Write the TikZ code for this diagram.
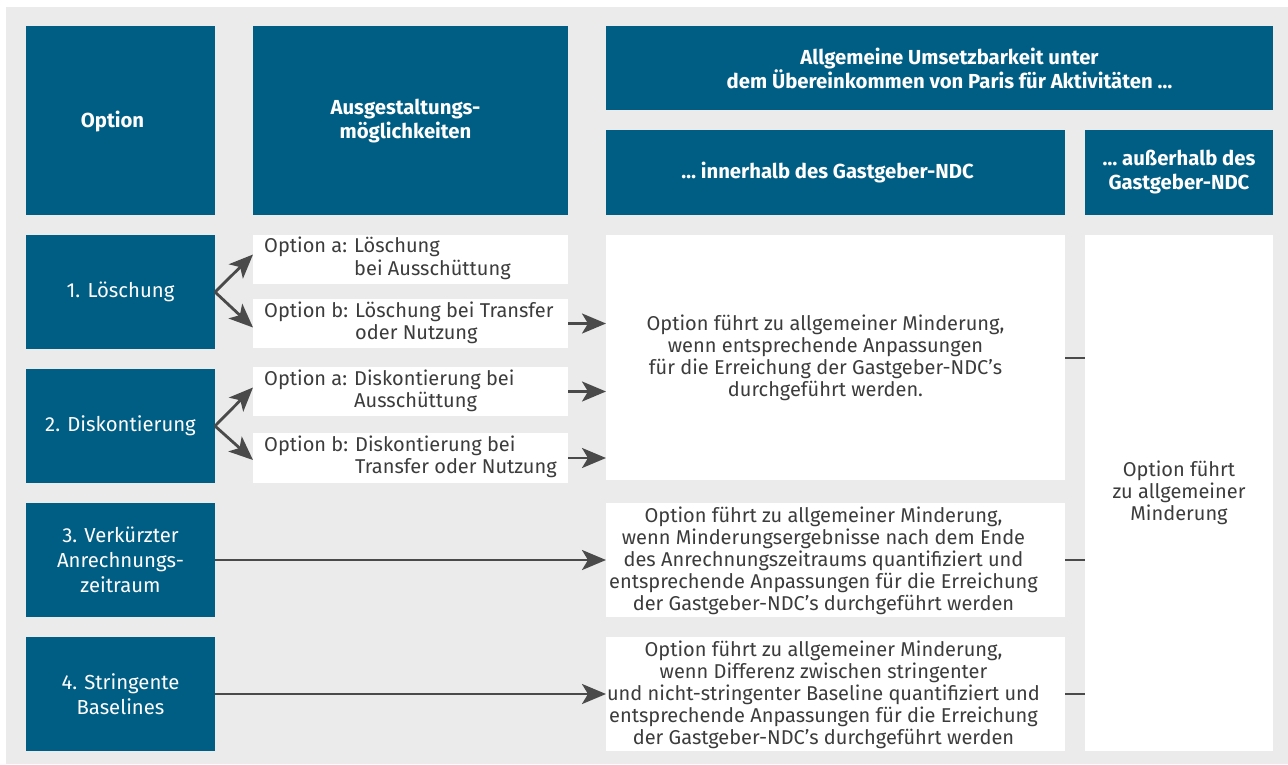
\documentclass[tikz,border=0pt]{standalone}
\usepackage{fontspec}
\setmainfont{Fira Sans}
\usetikzlibrary{arrows.meta,calc}
\definecolor{ubablue}{RGB}{0,94,132}
\definecolor{bggrey}{RGB}{235,235,235}
\definecolor{txtgrey}{RGB}{60,60,60}
\definecolor{arrgrey}{RGB}{74,74,74}
\begin{document}
\begin{tikzpicture}[x=1pt,y=-1pt,
  box/.style n args={2}{anchor=north west,inner sep=0pt,outer sep=0pt,draw=none,minimum width=#1,minimum height=#2},
  bluebox/.style n args={2}{box={#1}{#2},fill=ubablue},
  whitebox/.style n args={2}{box={#1}{#2},fill=white},
  headtxt/.style={text=white,align=center,inner sep=0pt,font=\fontsize{20.3}{24}\selectfont\bfseries},
  rowtxt/.style={text=white,align=center,inner sep=0pt,font=\fontsize{20.3}{25}\selectfont},
  bodytxt/.style={text=txtgrey,align=center,inner sep=0pt,font=\fontsize{20}{22}\selectfont},
  subtxt/.style={text=txtgrey,anchor=west,inner sep=0pt,font=\fontsize{20}{22}\selectfont},
  arr/.style={draw=arrgrey,line width=2.8pt,-{Stealth[length=24pt,width=20pt,inset=6pt]}},
  link/.style={draw=arrgrey,line width=2pt}
]
\useasboundingbox (0,0) rectangle (1288,764);
\fill[white] (0,0) rectangle (1288,764);
\fill[bggrey] (6,7) rectangle (1288,764);

% header boxes
\node[bluebox={189pt}{189pt}] (hopt) at (26,26) {};
\node[bluebox={315pt}{189pt}] (haus) at (253,26) {};
\node[bluebox={667pt}{84pt}] (hall) at (606,26) {};
\node[bluebox={459pt}{85pt}] (hin) at (606,130) {};
\node[bluebox={188pt}{85pt}] (hout) at (1085,130) {};

\node[headtxt] (hopt-t) at ($(hopt.center)+(-8,1)$) {Option};
\node[headtxt] (haus-t) at ($(haus.center)+(-5,1)$) {Ausgestaltungs-\\möglichkeiten};
\node[headtxt] (hall-t) at ($(hall.center)+(10,0)$) {Allgemeine Umsetzbarkeit unter\\dem Übereinkommen von Paris für Aktivitäten …};
\node[headtxt] (hin-t) at ($(hin.center)+(-8,0)$) {… innerhalb des Gastgeber-NDC};
\node[headtxt] (hout-t) at (hout.center) {… außerhalb des\\Gastgeber-NDC};

% option boxes
\node[bluebox={189pt}{114pt}] (o1) at (26,235) {};
\node[bluebox={189pt}{114pt}] (o2) at (26,369) {};
\node[bluebox={189pt}{114pt}] (o3) at (26,503) {};
\node[bluebox={189pt}{114pt}] (o4) at (26,637) {};
\node[rowtxt] (o1-t) at (o1.center) {1. Löschung};
\node[rowtxt] (o2-t) at (o2.center) {2. Diskontierung};
\node[rowtxt] (o3-t) at (o3.center) {3. Verkürzter\\Anrechnungs-\\zeitraum};
\node[rowtxt] (o4-t) at (o4.center) {4. Stringente\\Baselines};

% sub-option boxes
\node[whitebox={315pt}{49pt}] (s1a) at (253,235) {};
\node[whitebox={315pt}{49pt}] (s1b) at (253,299) {};
\node[whitebox={315pt}{49pt}] (s2a) at (253,367) {};
\node[whitebox={315pt}{50pt}] (s2b) at (253,433) {};
\node[subtxt] (s1a-t) at ($(s1a.west)+(11,0)$) {\begin{tabular}{@{}l@{ }l@{}}Option a:&Löschung\\&bei Ausschüttung\end{tabular}};
\node[subtxt] (s1b-t) at ($(s1b.west)+(11,0)$) {\begin{tabular}{@{}l@{ }l@{}}Option b:&Löschung bei Transfer\\&oder Nutzung\end{tabular}};
\node[subtxt] (s2a-t) at ($(s2a.west)+(11,0)$) {\begin{tabular}{@{}l@{ }l@{}}Option a:&Diskontierung bei\\&Ausschüttung\end{tabular}};
\node[subtxt] (s2b-t) at ($(s2b.west)+(11,0)$) {\begin{tabular}{@{}l@{ }l@{}}Option b:&Diskontierung bei\\&Transfer oder Nutzung\end{tabular}};

% result boxes
\node[whitebox={459pt}{245pt}] (big) at (606,235) {};
\node[whitebox={459pt}{114pt}] (r3) at (606,503) {};
\node[whitebox={459pt}{114pt}] (r4) at (606,637) {};
\node[whitebox={188pt}{516pt}] (right) at (1085,235) {};

\node[bodytxt] (big-t) at ($(big.center)+(-10,0)$) {Option führt zu allgemeiner Minderung,\\wenn entsprechende Anpassungen\\für die Erreichung der Gastgeber-NDC’s\\durchgeführt werden.};
\node[bodytxt] (r3-t) at ($(r3.center)+(-12,1)$) {Option führt zu allgemeiner Minderung,\\wenn Minderungsergebnisse nach dem Ende\\des Anrechnungszeitraums quantifiziert und\\entsprechende Anpassungen für die Erreichung\\der Gastgeber-NDC’s durchgeführt werden};
\node[bodytxt] (r4-t) at ($(r4.center)+(-12,1)$) {Option führt zu allgemeiner Minderung,\\wenn Differenz zwischen stringenter\\und nicht-stringenter Baseline quantifiziert und\\entsprechende Anpassungen für die Erreichung\\der Gastgeber-NDC’s durchgeführt werden};
\node[bodytxt] (right-t) at (right.center) {Option führt\\zu allgemeiner\\Minderung};

% arrows
\draw[arr] (o1.east) -- ($(s1a.west)+(0,-5)$);
\draw[arr] (o1.east) -- ($(s1b.west)+(0,4)$);
\draw[arr] (o2.east) -- ($(s2a.west)+(0,-4)$);
\draw[arr] (o2.east) -- ($(s2b.west)+(0,2)$);
\draw[arr] (s1b.east) -- (s1b.east -| big.west);
\draw[arr] (s2a.east) -- (s2a.east -| big.west);
\draw[arr] (s2b.east) -- (s2b.east -| big.west);
\draw[arr] (o3.east) -- (o3.east -| r3.west);
\draw[arr] (o4.east) -- (o4.east -| r4.west);

% links to right column
\draw[link] (big.east) -- (big.east -| right.west);
\draw[link] (r3.east) -- (r3.east -| right.west);
\draw[link] (r4.east) -- (r4.east -| right.west);
\end{tikzpicture}
\end{document}
